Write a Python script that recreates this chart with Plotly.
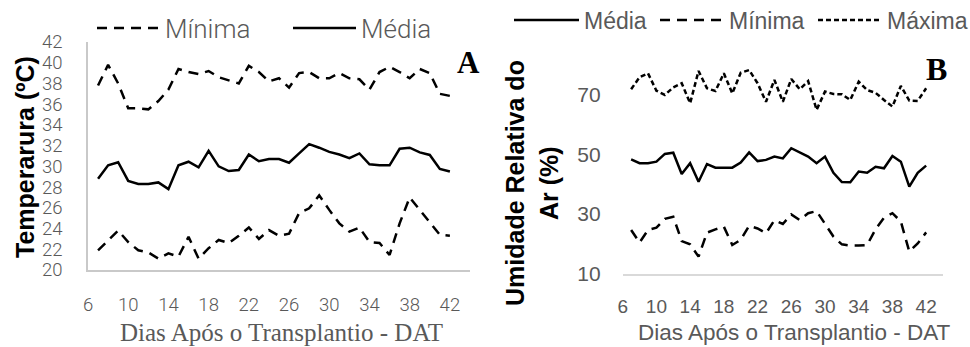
import plotly.graph_objects as go

# ---------------- data ----------------
dias = list(range(7, 43))
x_ticks = [6, 10, 14, 18, 22, 26, 30, 34, 38, 42]

temp_max = [37.8, 39.8, 38.0, 35.6, 35.6, 35.5, 36.3, 37.4, 39.4, 39.1,
            38.9, 39.2, 38.6, 38.3, 38.0, 39.7, 39.1, 38.2, 38.5, 37.6,
            39.0, 39.1, 38.5, 38.5, 39.0, 38.5, 38.4, 37.4, 39.1, 39.6,
            39.1, 38.5, 39.4, 39.0, 37.0, 36.8]
temp_med = [28.8, 30.1, 30.4, 28.6, 28.3, 28.3, 28.45, 27.8, 30.1, 30.45,
            29.9, 31.5, 30.0, 29.55, 29.65, 31.15, 30.5, 30.7, 30.7, 30.35,
            31.25, 32.15, 31.8, 31.4, 31.15, 30.8, 31.25, 30.2, 30.1, 30.1,
            31.7, 31.8, 31.35, 31.1, 29.75, 29.5]
temp_min = [21.9, 22.9, 23.8, 22.7, 21.9, 21.7, 21.1, 21.6, 21.3, 23.2,
            21.1, 22.1, 22.9, 22.6, 23.3, 24.1, 23.0, 23.85, 23.3, 23.5,
            25.5, 25.95, 27.2, 25.8, 24.5, 23.7, 24.1, 22.7, 22.6, 21.45,
            24.5, 27.0, 25.8, 24.65, 23.4, 23.3]

ur_med = [48.3, 47.0, 47.0, 47.5, 50.1, 50.5, 43.4, 47.0, 40.8, 46.7,
          45.5, 45.5, 45.5, 47.2, 50.6, 47.7, 48.1, 49.2, 48.6, 52.0,
          50.6, 49.2, 47.0, 49.2, 43.8, 40.7, 40.6, 44.2, 43.8, 45.8,
          45.3, 49.4, 47.5, 39.2, 43.8, 46.2]
ur_max = [71.7, 75.7, 77.0, 71.2, 69.8, 72.3, 73.7, 67.0, 77.8, 72.0,
          71.1, 77.0, 70.3, 77.2, 78.1, 73.7, 67.5, 74.8, 67.5, 75.1,
          71.7, 74.4, 64.8, 70.9, 70.1, 70.0, 68.1, 74.2, 71.4, 70.5,
          68.1, 65.9, 72.8, 67.9, 67.8, 72.0]
ur_min = [24.7, 20.5, 24.7, 25.5, 28.4, 29.1, 21.0, 19.9, 15.8, 23.8,
          24.9, 25.8, 19.7, 21.4, 26.1, 25.2, 23.6, 28.0, 26.7, 29.9,
          28.0, 30.3, 31.0, 26.9, 22.5, 19.9, 19.5, 19.5, 19.7, 24.9,
          28.8, 30.3, 27.5, 17.5, 20.2, 23.9]

# ---------------- figure ----------------
W, H = 970, 347
def px(x):
    return x / W
def py(y):
    return 1 - y / H

GRAY = "#595959"
SANS = "Liberation Sans, Arial, sans-serif"
ROBOTO = "Roboto, Liberation Sans, sans-serif"
SERIF = "Liberation Serif, Times New Roman, serif"
DASH_LONG = "10px,7px"
DASH_SHORT = "5px,3px"
LW = 2.5

fig = go.Figure()
# Panel A
fig.add_trace(go.Scatter(x=dias, y=temp_min, name="Mínima", mode="lines",
                         line=dict(color="black", width=LW, dash=DASH_LONG),
                         xaxis="x", yaxis="y", legend="legend"))
fig.add_trace(go.Scatter(x=dias, y=temp_med, name="Média", mode="lines",
                         line=dict(color="black", width=LW),
                         xaxis="x", yaxis="y", legend="legend2"))
fig.add_trace(go.Scatter(x=dias, y=temp_max, name="Máxima", mode="lines",
                         line=dict(color="black", width=LW, dash=DASH_LONG),
                         xaxis="x", yaxis="y", showlegend=False))
# Panel B
fig.add_trace(go.Scatter(x=dias, y=ur_med, name="Média", mode="lines",
                         line=dict(color="black", width=LW),
                         xaxis="x2", yaxis="y2", legend="legend3"))
fig.add_trace(go.Scatter(x=dias, y=ur_min, name="Mínima", mode="lines",
                         line=dict(color="black", width=LW, dash=DASH_LONG),
                         xaxis="x2", yaxis="y2", legend="legend4"))
fig.add_trace(go.Scatter(x=dias, y=ur_max, name="Máxima", mode="lines",
                         line=dict(color="black", width=LW, dash=DASH_SHORT),
                         xaxis="x2", yaxis="y2", legend="legend5"))

tickfontA = dict(family=ROBOTO, size=18.5, color=GRAY, weight=300)
tickfontBx = dict(family=SANS, size=19, color=GRAY)
tickfontBy = dict(family=SANS, size=21, color=GRAY)


def leg(x, y, iw, size, family, weight="normal"):
    return dict(orientation="h", x=px(x), y=py(y), xanchor="left",
                yanchor="middle",
                font=dict(family=family, size=size, color=GRAY, weight=weight),
                itemwidth=iw, bgcolor="rgba(0,0,0,0)", borderwidth=0)


def note(text, x, y, size, family, color="black", angle=0):
    return dict(text=text, x=px(x), y=py(y), xref="paper", yref="paper",
                showarrow=False, textangle=angle,
                font=dict(family=family, size=size, color=color),
                xanchor="center", yanchor="middle")


fig.update_layout(
    width=W, height=H,
    margin=dict(l=0, r=0, t=0, b=0, pad=0, autoexpand=False),
    plot_bgcolor="white", paper_bgcolor="white",
    xaxis=dict(domain=[px(88), px(470)], range=[6, 44], tickvals=x_ticks,
               showline=True, linecolor="#c9c9c9", linewidth=1.5,
               showgrid=False, zeroline=False, tickfont=tickfontA,
               ticks="", ticklabelstandoff=17, anchor="y"),
    yaxis=dict(domain=[py(270), py(42)], range=[20, 42], dtick=2,
               showline=True, linecolor="#c9c9c9", linewidth=1.5,
               showgrid=False, zeroline=False, tickfont=tickfontA,
               ticks="", ticklabelstandoff=20, anchor="x"),
    xaxis2=dict(domain=[px(622.7), px(943)], range=[6, 44], tickvals=x_ticks,
                showline=True, linecolor="#d9d9d9", linewidth=2,
                showgrid=False, zeroline=False, tickfont=tickfontBx,
                ticks="", ticklabelstandoff=14, anchor="y2"),
    yaxis2=dict(domain=[py(274), py(34.4)], range=[10, 90],
                tickvals=[10, 30, 50, 70],
                showline=False, showgrid=False, zeroline=False,
                tickfont=tickfontBy, ticks="", ticklabelstandoff=21,
                anchor="x2"),
    legend=leg(92, 28, 63, 26, ROBOTO, 300),
    legend2=leg(288, 28, 63, 26, ROBOTO, 300),
    legend3=leg(509, 20, 65, 23, SANS),
    legend4=leg(655, 20, 64, 23, SANS),
    legend5=leg(813, 20, 64, 23, SANS),
    annotations=[
        note("<b>Temperarura (ºC)</b>", 25, 157, 25, SANS, angle=-90),
        note("Dias Após o Transplantio - DAT", 281, 332, 25, SERIF, GRAY),
        note("<b>A</b>", 468, 63, 31, SERIF),
        note("<b>Umidade Relativa do</b>", 515, 183, 25, SANS, angle=-90),
        note("<b>Ar (%)</b>", 549, 183, 25, SANS, angle=-90),
        note("Dias Após o Transplantio - DAT", 794, 332, 22.5, SANS, GRAY),
        note("<b>B</b>", 936, 69, 32, SERIF),
    ],
)

fig.write_html("out.html",
               config={"displayModeBar": False},
               post_script="document.body.style.margin='0';"
                           "document.body.style.overflow='hidden';")
